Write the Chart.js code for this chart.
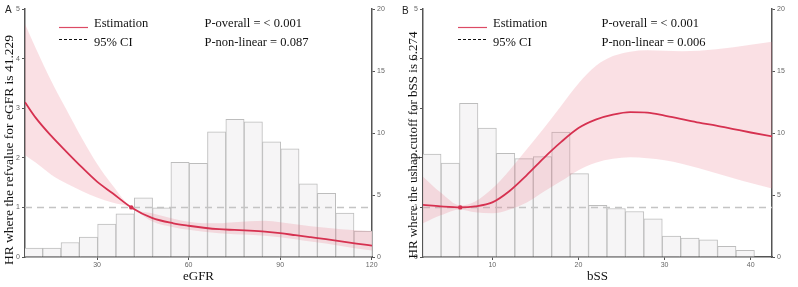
<!DOCTYPE html>
<html>
<head>
<meta charset="utf-8">
<script src="https://cdn.jsdelivr.net/npm/chart.js@4/dist/chart.umd.min.js"></script>
<style>
  html,body{margin:0;padding:0;background:#fff;}
  #wrap{position:relative;width:798px;height:287px;}
  canvas{position:absolute;top:0;}
</style>
</head>
<body>
<div id="wrap">
  <canvas id="cA" width="399" height="287" style="left:0"></canvas>
  <canvas id="cB" width="399" height="287" style="left:399px"></canvas>
</div>
<script>
// ---------- Panel A : eGFR ----------
const egfrBinCenters = [9.2, 15.2, 21.2, 27.2, 33.2, 39.2, 45.2, 51.2, 57.2, 63.2, 69.2, 75.2, 81.2, 87.2, 93.2, 99.2, 105.2, 111.2, 117.2];
const egfrBinHeights = [0.71, 0.71, 1.17, 1.6, 2.66, 3.48, 4.78, 3.97, 7.64, 7.55, 10.1, 11.1, 10.9, 9.29, 8.72, 5.91, 5.13, 3.54, 2.1];
const egfrX     = [6.4, 10, 15, 20, 25, 30, 35, 41.229, 48, 55, 60, 65, 70, 75, 80, 85, 90, 95, 100, 105, 110, 115, 120.1];
const egfrHR    = [3.12, 2.8, 2.44, 2.12, 1.81, 1.52, 1.29, 1.0, 0.79, 0.68, 0.63, 0.59, 0.56, 0.545, 0.53, 0.51, 0.48, 0.44, 0.40, 0.36, 0.315, 0.27, 0.23];
const egfrUpper = [4.7, 4.2, 3.55, 2.97, 2.4, 1.88, 1.45, 1.0, 0.88, 0.77, 0.71, 0.68, 0.68, 0.7, 0.72, 0.73, 0.7, 0.66, 0.62, 0.59, 0.56, 0.54, 0.52];
const egfrLower = [2.05, 1.9, 1.66, 1.48, 1.33, 1.2, 1.1, 1.0, 0.72, 0.6, 0.55, 0.51, 0.48, 0.46, 0.45, 0.43, 0.4, 0.36, 0.31, 0.27, 0.22, 0.17, 0.13];
const egfrRef = 41.229;
const egfrXTicks = [30, 60, 90, 120];

// ---------- Panel B : bSS ----------
const bssBinCenters = [2.98, 5.12, 7.26, 9.40, 11.54, 13.68, 15.82, 17.96, 20.10, 22.24, 24.38, 26.52, 28.66, 30.80, 32.94, 35.08, 37.22, 39.36];
const bssBinHeights = [8.3, 7.57, 12.39, 10.4, 8.37, 7.93, 8.1, 10.08, 6.72, 4.16, 3.91, 3.67, 3.07, 1.68, 1.52, 1.39, 0.87, 0.54];
const bssX     = [1.95, 4, 6.274, 8, 10, 12, 14, 16, 18, 20, 22, 24, 26, 28, 30, 32, 34, 36, 38, 40, 42.5];
const bssHR    = [1.05, 1.02, 1.0, 1.02, 1.1, 1.33, 1.65, 2.0, 2.32, 2.6, 2.77, 2.87, 2.92, 2.91, 2.85, 2.78, 2.71, 2.65, 2.58, 2.51, 2.43];
const bssUpper = [1.62, 1.3, 1.04, 1.12, 1.38, 1.75, 2.17, 2.6, 3.05, 3.5, 3.85, 4.05, 4.14, 4.17, 4.16, 4.15, 4.16, 4.19, 4.23, 4.28, 4.34];
const bssLower = [0.68, 0.84, 0.96, 0.9, 0.88, 0.96, 1.1, 1.32, 1.53, 1.75, 1.9, 1.98, 2.01, 1.99, 1.95, 1.88, 1.79, 1.69, 1.59, 1.49, 1.38];
const bssRef = 6.274;
const bssXTicks = [10, 20, 30, 40];

const yTicks = [0, 1, 2, 3, 4, 5];
const y2Ticks = [0, 5, 10, 15, 20];

const RED = '#d63150';
const SERIF = "'Liberation Serif', 'Times New Roman', serif";
const SANS = "'Liberation Sans', Arial, sans-serif";

const textPlugin = {
  id: 'texts',
  afterDraw(chart, args, o) {
    const ctx = chart.ctx;
    ctx.save();
    // panel letter
    ctx.font = '10px ' + SANS;
    ctx.fillStyle = '#222';
    ctx.textBaseline = 'middle';
    ctx.textAlign = 'left';
    ctx.fillText(o.letter, o.letterX, o.letterY);
    // legend lines
    ctx.strokeStyle = '#dc4a64';
    ctx.lineWidth = 1.2;
    ctx.beginPath(); ctx.moveTo(59, 27.5); ctx.lineTo(88, 27.5); ctx.stroke();
    ctx.strokeStyle = '#111';
    ctx.lineWidth = 1;
    ctx.setLineDash([3, 2]);
    ctx.beginPath(); ctx.moveTo(59, 39.5); ctx.lineTo(88, 39.5); ctx.stroke();
    ctx.setLineDash([]);
    ctx.font = '12.5px ' + SERIF;
    ctx.fillStyle = '#111';
    ctx.fillText('Estimation', 94, 24);
    ctx.fillText('95% CI', 94, 42.5);
    ctx.fillText(o.p1, o.pX, 24);
    ctx.fillText(o.p2, o.pX, 42.5);
    // y axis title
    ctx.translate(o.yTitleX, o.yTitleY);
    ctx.rotate(-Math.PI / 2);
    ctx.textAlign = 'center';
    ctx.font = o.yTitleSize + 'px ' + SERIF;
    ctx.fillText(o.yTitle, 0, 0);
    ctx.restore();
  }
};

function makeChart(id, cfg) {
  const xMin = cfg.xMin, xMax = cfg.xMax;
  const pts = (xs, ys) => xs.map((x, i) => ({x: x, y: ys[i]}));
  return new Chart(document.getElementById(id), {
    data: {
      datasets: [
        { type: 'line', label: 'ref', data: [{x: cfg.ref, y: 1}], yAxisID: 'y',
          showLine: false, pointRadius: 2.2, pointBackgroundColor: RED, pointBorderWidth: 0, order: 0 },
        { type: 'line', label: 'Estimation', data: pts(cfg.x, cfg.hr), yAxisID: 'y',
          borderColor: RED, borderWidth: 1.8, pointRadius: 0, cubicInterpolationMode: 'monotone', fill: false, order: 1 },
        { type: 'line', label: 'upper', data: pts(cfg.x, cfg.up), yAxisID: 'y',
          borderColor: 'rgba(0,0,0,0)', borderWidth: 0, pointRadius: 0, cubicInterpolationMode: 'monotone',
          fill: '+1', backgroundColor: 'rgba(232,112,134,0.22)', order: 2 },
        { type: 'line', label: 'lower', data: pts(cfg.x, cfg.lo), yAxisID: 'y',
          borderColor: 'rgba(0,0,0,0)', borderWidth: 0, pointRadius: 0, cubicInterpolationMode: 'monotone',
          fill: false, order: 2 },
        { type: 'line', label: 'refline', data: [{x: xMin, y: 1}, {x: xMax, y: 1}], yAxisID: 'y',
          borderColor: '#c4c4c4', borderWidth: 1.5, borderDash: [7, 5], pointRadius: 0, fill: false, order: 3 },
        { type: 'bar', label: 'hist', data: pts(cfg.bins, cfg.heights), yAxisID: 'y2',
          backgroundColor: '#f6f5f6', borderColor: '#bdbdbd', borderWidth: 1,
          barPercentage: 1, categoryPercentage: 1, order: 10 }
      ]
    },
    options: {
      responsive: false,
      animation: false,
      devicePixelRatio: 1,
      layout: { padding: { top: 9, bottom: 0, left: 0, right: 0 } },
      plugins: {
        legend: { display: false },
        tooltip: { enabled: false },
        texts: cfg.texts
      },
      scales: {
        x: {
          type: 'linear', min: xMin, max: xMax, offset: false,
          afterBuildTicks: s => { s.ticks = cfg.xTicks.map(v => ({value: v})); },
          afterFit: s => { s.height = 30; },
          grid: { offset: false, drawOnChartArea: false, drawTicks: true, tickLength: 3, color: '#555' },
          border: { display: true, color: '#555', width: 1.5 },
          ticks: { font: { family: SANS, size: 7 }, color: '#666', padding: 1, maxRotation: 0 },
          title: { display: true, text: cfg.xTitle, font: { family: SERIF, size: 13 }, color: '#111', padding: { top: 0, bottom: 2.2 } }
        },
        y: {
          position: 'left', min: 0, max: 5,
          afterBuildTicks: s => { s.ticks = yTicks.map(v => ({value: v})); },
          afterFit: s => { s.width = cfg.leftW; },
          grid: { drawOnChartArea: false, drawTicks: true, tickLength: 3, color: '#555' },
          border: { display: true, color: '#555', width: 1.5 },
          ticks: { font: { family: SANS, size: 7 }, color: '#666', padding: 2 }
        },
        y2: {
          position: 'right', min: 0, max: 20,
          afterBuildTicks: s => { s.ticks = y2Ticks.map(v => ({value: v})); },
          afterFit: s => { s.width = cfg.rightW; },
          grid: { drawOnChartArea: false, drawTicks: true, tickLength: 3, color: '#555' },
          border: { display: true, color: '#555', width: 1.5 },
          ticks: { font: { family: SANS, size: 7 }, color: '#666', padding: 2 }
        }
      }
    },
    plugins: [textPlugin]
  });
}

makeChart('cA', {
  xMin: 6.4, xMax: 120.1, ref: egfrRef,
  x: egfrX, hr: egfrHR, up: egfrUpper, lo: egfrLower,
  bins: egfrBinCenters, heights: egfrBinHeights, xTicks: egfrXTicks,
  xTitle: 'eGFR',
  leftW: 25, rightW: 27,
  texts: { letter: 'A', letterX: 5, letterY: 10, p1: 'P-overall = < 0.001', p2: 'P-non-linear = 0.087', pX: 204.5,
           yTitle: 'HR where the refvalue for eGFR is 41.229', yTitleX: 9.5, yTitleY: 150, yTitleSize: 13.5 }
});

makeChart('cB', {
  xMin: 1.95, xMax: 42.47, ref: bssRef,
  x: bssX, hr: bssHR, up: bssUpper, lo: bssLower,
  bins: bssBinCenters, heights: bssBinHeights, xTicks: bssXTicks,
  xTitle: 'bSS',
  leftW: 24, rightW: 26,
  texts: { letter: 'B', letterX: 3, letterY: 11.5, p1: 'P-overall = < 0.001', p2: 'P-non-linear = 0.006', pX: 202.5,
           yTitle: 'HR where the ushap.cutoff for bSS is 6.274', yTitleX: 15, yTitleY: 145, yTitleSize: 13 }
});
</script>
</body>
</html>
